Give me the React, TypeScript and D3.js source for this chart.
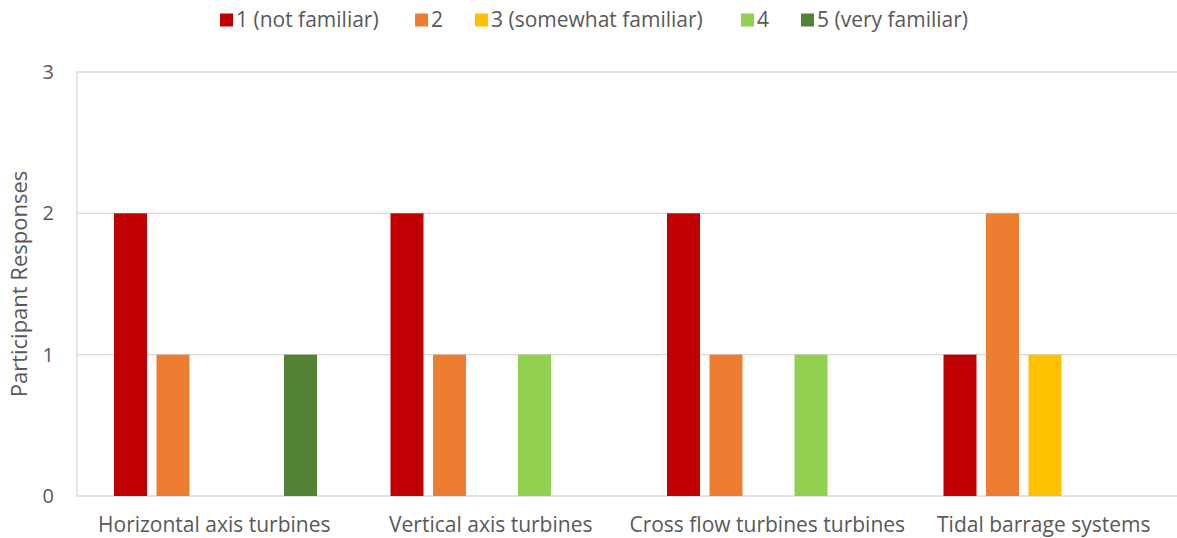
import React from "react";
import * as d3 from "d3";

const categories = [
  "Horizontal axis turbines",
  "Vertical axis turbines",
  "Cross flow turbines turbines",
  "Tidal barrage systems",
];
const seriesNames = [
  "1 (not familiar)",
  "2",
  "3 (somewhat familiar)",
  "4",
  "5 (very familiar)",
];
const seriesColors = ["#C00000", "#ED7D31", "#FFC000", "#92D050", "#548235"];
const notFamiliar = [2, 2, 2, 1];
const level2 = [1, 1, 1, 2];
const somewhatFamiliar = [0, 0, 0, 1];
const level4 = [0, 1, 1, 0];
const veryFamiliar = [1, 0, 0, 0];
const seriesValues = [notFamiliar, level2, somewhatFamiliar, level4, veryFamiliar];
const yTicks = [0, 1, 2, 3];

const W = 1177;
const H = 538;
const FONT = "'Open Sans', sans-serif";
const TEXT = "#595959";
const GRID = "#D9D9D9";

// legend item positions (square left edges)
const legendX = [220, 415, 475, 741, 801];

export default function App() {
  const x0 = d3.scaleBand<string>().domain(categories).range([77, 1183]).padding(0);
  const gw = x0.bandwidth();
  const x1 = d3
    .scaleBand<number>()
    .domain(d3.range(seriesNames.length))
    .range([37, 240])
    .paddingInner(0.224)
    .paddingOuter(0);
  const y = d3.scaleLinear().domain([0, 3]).range([496, 72]);

  return (
    <svg
      width={W}
      height={H}
      style={{ position: "absolute", left: 0, top: 0, background: "#fff" }}
      fontFamily={FONT}
    >
      {/* gridlines */}
      {yTicks.map((t) => (
        <line key={t} x1={77} x2={1183} y1={y(t)} y2={y(t)} stroke={GRID} strokeWidth={1.3} />
      ))}
      <line x1={77} x2={77} y1={y(3)} y2={y(0)} stroke={GRID} strokeWidth={1.3} />
      {/* y tick labels */}
      {yTicks.map((t) => (
        <text key={t} x={54} y={y(t)} dy="0.35em" textAnchor="end" fontSize={20} fill={TEXT}>
          {t}
        </text>
      ))}
      {/* y title */}
      <text
        transform={`translate(19,${(y(0) + y(3)) / 2}) rotate(-90)`}
        textAnchor="middle"
        dy="0.35em"
        fontSize={22}
        fill={TEXT}
      >
        Participant Responses
      </text>
      {/* bars */}
      {categories.map((c, ci) => (
        <g key={c} transform={`translate(${x0(c)},0)`}>
          {seriesValues.map((vals, si) =>
            vals[ci] > 0 ? (
              <rect
                key={si}
                x={x1(si)}
                width={x1.bandwidth()}
                y={y(vals[ci])}
                height={y(0) - y(vals[ci])}
                fill={seriesColors[si]}
              />
            ) : null
          )}
          <text
            x={gw / 2 - 1}
            y={525}
            dy="0.35em"
            textAnchor="middle"
            fontSize={21}
            fill={TEXT}
          >
            {c}
          </text>
        </g>
      ))}
      {/* legend */}
      {seriesNames.map((n, i) => (
        <g key={n}>
          <rect x={legendX[i]} y={13.5} width={13} height={13} fill={seriesColors[i]} />
          <text x={legendX[i] + 16} y={20} dy="0.35em" fontSize={21} fill={TEXT}>
            {n}
          </text>
        </g>
      ))}
    </svg>
  );
}
